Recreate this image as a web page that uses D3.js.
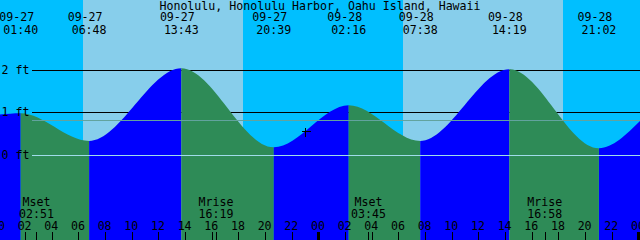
<!DOCTYPE html>
<html>
<head>
<meta charset="utf-8">
<script src="https://cdn.jsdelivr.net/npm/d3@7"></script>
<style>
body { margin: 0; background: #fff; }
svg { display: block; }
text { font-family: "DejaVu Sans Mono", monospace; font-size: 11.6px; fill: #000; }
</style>
</head>
<body>
<svg width="640" height="240"></svg>
<script>
/*
Chart data
*/
var title = "Honolulu, Honolulu Harbor, Oahu Island, Hawaii";
var startTime = "09-27 00:07",
    endTime = "09-29 00:07",
    startHeight = 0.96,
    endHeight = 0.81;

var tideTimes = ["09-27 01:40", "09-27 06:48", "09-27 13:43", "09-27 20:39",
                 "09-28 02:16", "09-28 07:38", "09-28 14:19", "09-28 21:02"];
var tideHeights = [0.99, 0.34, 2.05, 0.19, 1.18, 0.34, 2.03, 0.17];

var sunriseTimes = ["09-27 06:22", "09-28 06:22"];
var sunsetTimes = ["09-27 18:21", "09-28 18:21"];

var moonTimes = ["09-27 02:51", "09-27 16:19", "09-28 03:45", "09-28 16:58"];
var moonNames = ["Mset", "Mrise", "Mset", "Mrise"];

var depthTicks = [0, 1, 2];
var mslHeight = 0.83;
var markTime = "09-27 23:00",
    markHeight = 0.57;

/*
colours
*/
var nightColor = "#00bfff",
    dayColor = "#87ceeb",
    riseColor = "#0000ff",
    fallColor = "#2e8b57",
    mslColor = "#62a39e",
    datumColor = "#a0dcea";

var svg = d3.select("svg"),
    width = +svg.attr("width"),
    height = +svg.attr("height");

var parseTime = d3.timeParse("%m-%d %H:%M"),
    fmtDate = d3.timeFormat("%m-%d"),
    fmtTime = d3.timeFormat("%H:%M");

var t0 = parseTime(startTime),
    t1 = parseTime(endTime);

var xScale = d3.scaleTime().domain([t0, t1]).range([0, width]),
    yScale = d3.scaleLinear().domain([0, 2]).range([155.4, 70.4]);

function lineY(v) { return Math.round(yScale(v) - 0.5) + 0.5; }

var events = tideTimes.map(function(t, i) {
    return {t: parseTime(t), h: tideHeights[i]};
});
var points = [{t: t0, h: startHeight}].concat(events, [{t: t1, h: endHeight}]);

/*
background: night then daylight bands
*/
svg.append("rect")
    .attr("width", width)
    .attr("height", height)
    .attr("fill", nightColor);

svg.selectAll(".day")
    .data(sunriseTimes)
    .enter().append("rect")
      .attr("class", "day")
      .attr("x", function(d) { return Math.round(xScale(parseTime(d))); })
      .attr("width", function(d, i) {
          return Math.round(xScale(parseTime(sunsetTimes[i]))) - Math.round(xScale(parseTime(d)));
      })
      .attr("height", height)
      .attr("fill", dayColor);

/*
depth lines that sit behind the water
*/
svg.selectAll(".depth")
    .data(depthTicks.filter(function(d) { return d > 0; }))
    .enter().append("line")
      .attr("class", "depth")
      .attr("x1", 32).attr("x2", width)
      .attr("y1", lineY).attr("y2", lineY)
      .attr("stroke", "#000")
      .attr("shape-rendering", "crispEdges");

/*
tide curve, split into rising / falling pieces with clip rects
*/
var area = d3.area()
    .curve(d3.curveMonotoneX)
    .x(function(d) { return xScale(d.t); })
    .y0(height)
    .y1(function(d) { return yScale(d.h); });

var defs = svg.append("defs");
var segments = d3.pairs(points);

defs.selectAll("clipPath")
    .data(segments)
    .enter().append("clipPath")
      .attr("id", function(d, i) { return "seg" + i; })
    .append("rect")
      .attr("x", function(d) { return xScale(d[0].t); })
      .attr("width", function(d) { return xScale(d[1].t) - xScale(d[0].t); })
      .attr("y", 0)
      .attr("height", height);

svg.selectAll(".tide")
    .data(segments)
    .enter().append("path")
      .attr("class", "tide")
      .attr("d", area(points))
      .attr("clip-path", function(d, i) { return "url(#seg" + i + ")"; })
      .attr("fill", function(d) { return d[1].h > d[0].h ? riseColor : fallColor; });

/*
datum and mean sea level lines on top of the water
*/
svg.append("line")
    .attr("x1", 32).attr("x2", width)
    .attr("y1", lineY(mslHeight)).attr("y2", lineY(mslHeight))
    .attr("stroke", mslColor)
    .attr("shape-rendering", "crispEdges");

svg.append("line")
    .attr("x1", 32).attr("x2", width)
    .attr("y1", lineY(0)).attr("y2", lineY(0))
    .attr("stroke", datumColor)
    .attr("shape-rendering", "crispEdges");

svg.selectAll(".depthLabel")
    .data(depthTicks)
    .enter().append("text")
      .attr("class", "depthLabel")
      .attr("x", 1.5)
      .attr("y", function(d) { return lineY(d) + 3.5; })
      .text(function(d) { return d + " ft"; });

/*
current time mark
*/
var mx = Math.round(xScale(parseTime(markTime))) + 0.5,
    my = Math.round(yScale(markHeight)) + 0.5;
svg.append("path")
    .attr("d", "M" + (mx - 4) + "," + my + "H" + (mx + 5) + "M" + mx + "," + (my - 4) + "V" + (my + 5))
    .attr("stroke", "#000")
    .attr("shape-rendering", "crispEdges");

/*
title and high / low labels
*/
svg.append("text")
    .attr("x", width / 2)
    .attr("y", 10)
    .attr("text-anchor", "middle")
    .text(title);

var evLabel = svg.selectAll(".evLabel")
    .data(events)
    .enter().append("g")
      .attr("class", "evLabel")
      .attr("transform", function(d) { return "translate(" + xScale(d.t) + ",0)"; });

evLabel.append("text")
    .attr("x", -4)
    .attr("y", 21)
    .attr("text-anchor", "middle")
    .text(function(d) { return fmtDate(d.t); });

evLabel.append("text")
    .attr("y", 34)
    .attr("text-anchor", "middle")
    .text(function(d) { return fmtTime(d.t); });

/*
moon rise / set labels and ticks
*/
var moon = svg.selectAll(".moon")
    .data(moonTimes.map(function(t, i) { return {t: parseTime(t), name: moonNames[i]}; }))
    .enter().append("g")
      .attr("class", "moon")
      .attr("transform", function(d) { return "translate(" + xScale(d.t) + ",0)"; });

moon.append("text")
    .attr("y", 206)
    .attr("text-anchor", "middle")
    .text(function(d) { return d.name; });

moon.append("text")
    .attr("y", 217.5)
    .attr("text-anchor", "middle")
    .text(function(d) { return fmtTime(d.t); });

moon.append("line")
    .attr("x1", 0.5).attr("x2", 0.5)
    .attr("y1", 232).attr("y2", height)
    .attr("stroke", "#000")
    .attr("shape-rendering", "crispEdges");

/*
hour axis along the bottom
*/
var hourTicks = d3.timeHours(d3.timeDay.floor(t0), d3.timeMinute.offset(t1, 1), 2);

var axis = svg.append("g")
    .attr("transform", "translate(0," + height + ")")
    .call(d3.axisTop(xScale)
        .tickValues(hourTicks)
        .tickSizeInner(8)
        .tickSizeOuter(0)
        .tickPadding(2.5)
        .tickFormat(d3.timeFormat("%H")));

axis.select(".domain").remove();
axis.selectAll(".tick line")
    .attr("shape-rendering", "crispEdges")
    .attr("stroke-width", function(d) { return d.getHours() === 0 ? 3 : 1; });
axis.selectAll(".tick text").attr("x", -1);
</script>
</body>
</html>
